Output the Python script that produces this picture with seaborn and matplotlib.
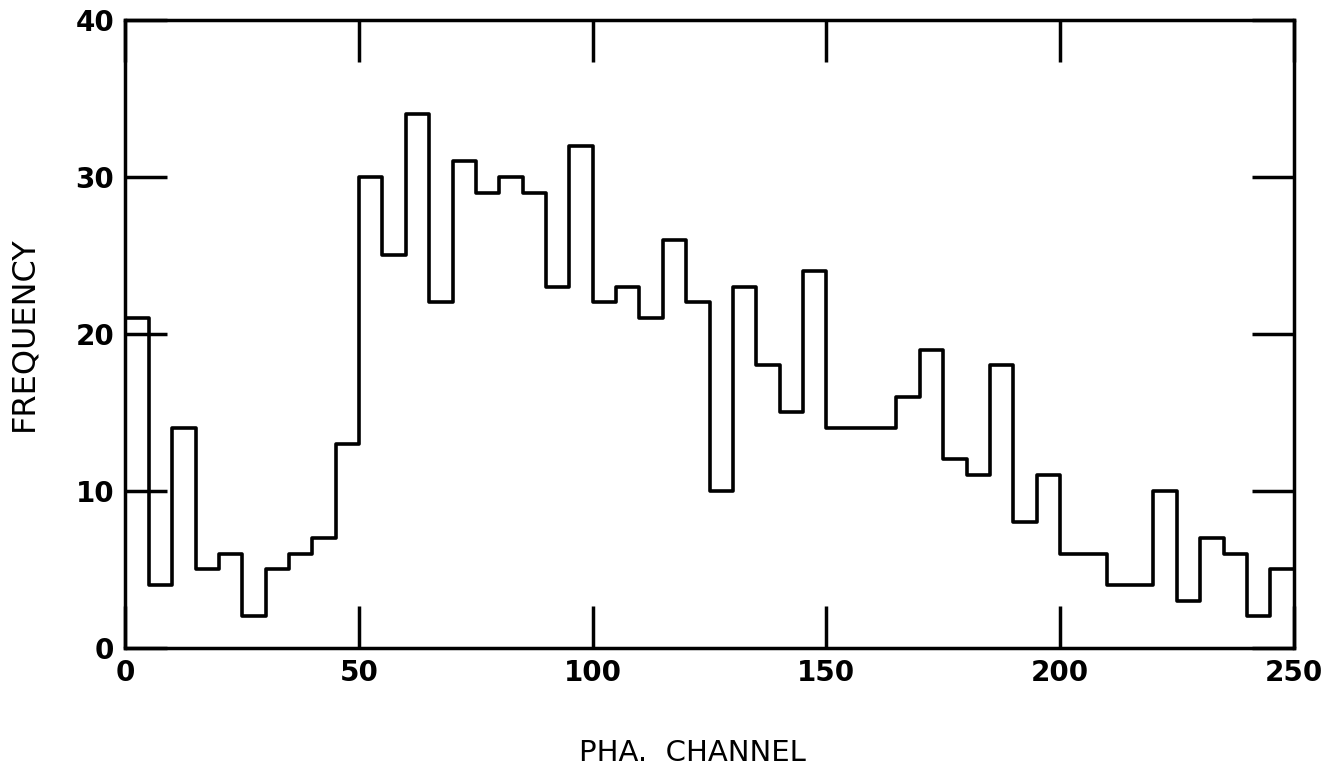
import numpy as np
import matplotlib
matplotlib.use("Agg")
import matplotlib.pyplot as plt
import seaborn as sns

# PHA channel bins (width 5) and frequency
bin_edges = list(range(0, 255, 5))
channel = [2.5 + 5 * i for i in range(50)]
frequency = [21, 4, 14, 5, 6, 2, 5, 6, 7, 13,
             30, 25, 34, 22, 31, 29, 30, 29, 23, 32,
             22, 23, 21, 26, 22, 10, 23, 18, 15, 24,
             14, 14, 14, 16, 19, 12, 11, 18, 8, 11,
             6, 6, 4, 4, 10, 3, 7, 6, 2, 5]
x_ticks = [0, 50, 100, 150, 200, 250]
y_ticks = [0, 10, 20, 30, 40]

sns.set_style("ticks")
plt.rcParams['font.family'] = ['DejaVu Sans']
plt.rcParams['text.color'] = 'black'
plt.rcParams['axes.labelcolor'] = 'black'
plt.rcParams['xtick.color'] = 'black'
plt.rcParams['ytick.color'] = 'black'

fig = plt.figure(figsize=(13.35, 7.71), dpi=100)
ax = fig.add_axes([0.094, 0.16, 0.875, 0.814])

sns.histplot(x=channel, weights=frequency, bins=bin_edges, element="step",
             fill=False, color="black", linewidth=2.6, ax=ax)

ax.set_xlim(0, 250)
ax.set_ylim(0, 40)
ax.set_xticks(x_ticks)
ax.set_yticks(y_ticks)
ax.set_xticklabels([str(t) for t in x_ticks], fontsize=20, fontweight='bold')
ax.set_yticklabels([str(t) for t in y_ticks], fontsize=20, fontweight='bold')
ax.tick_params(direction='in', length=30, width=2.5, top=True, right=True,
               color='black', labelcolor='black', pad=8)
for s in ax.spines.values():
    s.set_linewidth(2.5)
    s.set_color('black')

ax.set_xlabel("PHA.  CHANNEL", fontsize=21, color='black')
ax.set_ylabel("FREQUENCY", fontsize=23, color='black')
ax.xaxis.set_label_coords(0.485, -0.145)
ax.yaxis.set_label_coords(-0.074, 0.5)

fig.savefig("out.png", dpi=100)
